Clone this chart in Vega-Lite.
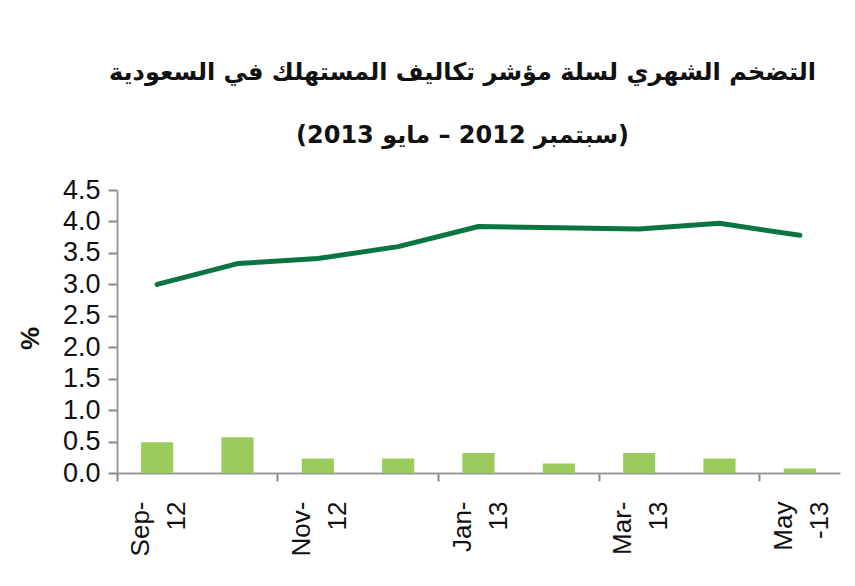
{
  "$schema": "https://vega.github.io/schema/vega-lite/v6.json",
  "width": 723,
  "height": 283,
  "autosize": {"type": "none"},
  "padding": {"left": 117, "top": 190, "right": 15, "bottom": 113},
  "background": "white",
  "title": {
    "text": ["التضخم الشهري لسلة مؤشر تكاليف المستهلك في السعودية", "\u202b(سبتمبر 2012 – مايو 2013)\u202c"],
    "font": "DejaVu Sans",
    "fontSize": 24,
    "fontWeight": "bold",
    "color": "#111111",
    "lineHeight": 63,
    "anchor": "middle",
    "dx": -16,
    "offset": 28
  },
  "data": {
    "values": [
      {"month": "Sep-12", "monthly": 0.49, "annual": 3.0},
      {"month": "Oct-12", "monthly": 0.57, "annual": 3.33},
      {"month": "Nov-12", "monthly": 0.23, "annual": 3.41},
      {"month": "Dec-12", "monthly": 0.23, "annual": 3.6},
      {"month": "Jan-13", "monthly": 0.32, "annual": 3.92},
      {"month": "Feb-13", "monthly": 0.15, "annual": 3.9},
      {"month": "Mar-13", "monthly": 0.32, "annual": 3.88},
      {"month": "Apr-13", "monthly": 0.23, "annual": 3.97},
      {"month": "May-13", "monthly": 0.07, "annual": 3.78}
    ]
  },
  "encoding": {
    "x": {
      "field": "month",
      "type": "ordinal",
      "sort": null,
      "scale": {"paddingInner": 0, "paddingOuter": 0},
      "axis": {
        "title": null,
        "values": ["Sep-12", "Nov-12", "Jan-13", "Mar-13", "May-13"],
        "labelExpr": "datum.value == 'May-13' ? ['May', '-13'] : [slice(datum.value, 0, 4), slice(datum.value, 4)]",
        "labelAngle": -90,
        "labelFont": "Liberation Sans",
        "labelFontSize": 26,
        "labelLineHeight": 36,
        "labelColor": "#111111",
        "labelPadding": 20,
        "labelOffset": -16,
        "bandPosition": 0,
        "tickSize": 8,
        "tickColor": "#888888",
        "domainColor": "#999999",
        "domainWidth": 2,
        "tickWidth": 2,
        "grid": false
      }
    }
  },
  "layer": [
    {
      "mark": {"type": "bar", "color": "#9bcb5a", "width": {"band": 0.4}},
      "encoding": {
        "y": {
          "field": "monthly",
          "type": "quantitative",
          "scale": {"domain": [0, 4.5], "nice": false},
          "axis": {
            "title": "%",
            "titleFont": "Liberation Sans",
            "titleFontSize": 26,
            "titleFontWeight": "bold",
            "titleColor": "#111111",
            "titleAngle": -90,
            "titleAlign": "center",
            "titleBaseline": "middle",
            "titleX": -87,
            "titleY": 148,
            "values": [0, 0.5, 1, 1.5, 2, 2.5, 3, 3.5, 4, 4.5],
            "format": ".1f",
            "labelOverlap": false,
            "labelFont": "Liberation Sans",
            "labelFontSize": 27,
            "labelColor": "#111111",
            "labelPadding": 8,
            "tickSize": 9,
            "tickColor": "#888888",
            "tickWidth": 2,
            "domainColor": "#999999",
            "domainWidth": 2,
            "grid": false
          }
        }
      }
    },
    {
      "mark": {"type": "line", "color": "#0b7443", "strokeWidth": 5, "strokeCap": "round", "strokeJoin": "round"},
      "encoding": {
        "y": {
          "field": "annual",
          "type": "quantitative",
          "scale": {"domain": [0, 4.5], "nice": false},
          "axis": {
            "title": "%",
            "titleFont": "Liberation Sans",
            "titleFontSize": 26,
            "titleFontWeight": "bold",
            "titleColor": "#111111",
            "titleAngle": -90,
            "titleAlign": "center",
            "titleBaseline": "middle",
            "titleX": -87,
            "titleY": 148,
            "values": [0, 0.5, 1, 1.5, 2, 2.5, 3, 3.5, 4, 4.5],
            "format": ".1f",
            "labelOverlap": false,
            "labelFont": "Liberation Sans",
            "labelFontSize": 27,
            "labelColor": "#111111",
            "labelPadding": 8,
            "tickSize": 9,
            "tickColor": "#888888",
            "tickWidth": 2,
            "domainColor": "#999999",
            "domainWidth": 2,
            "grid": false
          }
        }
      }
    }
  ],
  "config": {"view": {"stroke": null}}
}
